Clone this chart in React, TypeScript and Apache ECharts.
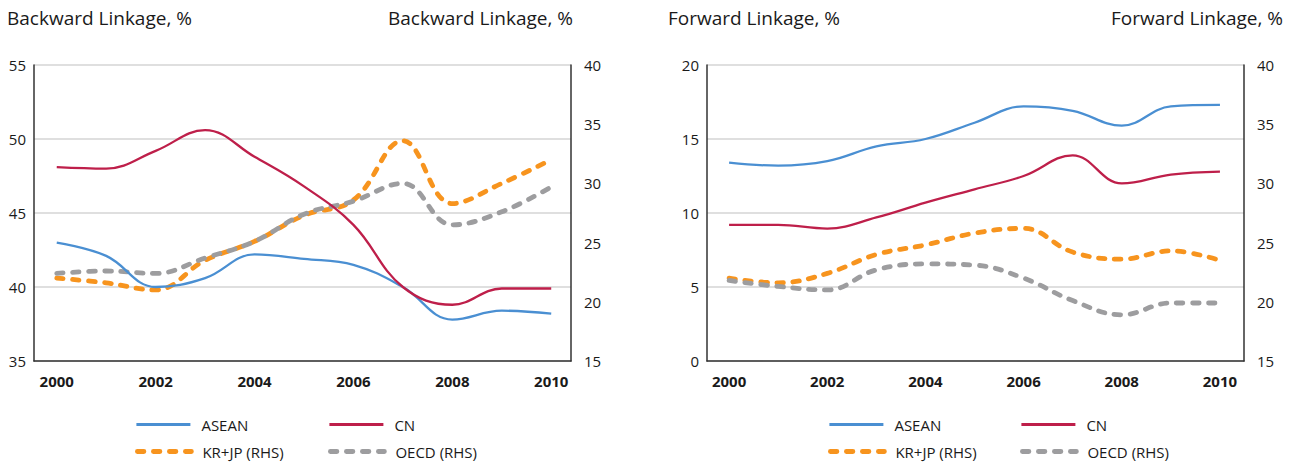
import React, { useEffect, useRef } from "react";
import * as echarts from "echarts";

const years = [2000, 2001, 2002, 2003, 2004, 2005, 2006, 2007, 2008, 2009, 2010];
const yearTicks = [2000, 2002, 2004, 2006, 2008, 2010];

// Backward linkage (left chart)
const bwASEAN = [43.0, 42.1, 40.0, 40.6, 42.2, 41.9, 41.5, 40.0, 37.8, 38.4, 38.2];
const bwCN = [48.1, 48.0, 49.2, 50.6, 48.8, 46.8, 44.2, 40.0, 38.8, 39.9, 39.9];
const bwKRJP = [22.0, 21.6, 21.0, 23.5, 25.1, 27.3, 28.6, 33.6, 28.3, 30.0, 32.0];
const bwOECD = [22.4, 22.6, 22.4, 23.7, 25.1, 27.4, 28.5, 30.0, 26.5, 27.6, 29.7];

// Forward linkage (right chart)
const fwASEAN = [13.4, 13.2, 13.5, 14.5, 15.0, 16.1, 17.2, 16.9, 15.9, 17.2, 17.3];
const fwCN = [9.2, 9.2, 8.95, 9.7, 10.7, 11.6, 12.5, 13.9, 12.0, 12.6, 12.8];
const fwKRJP = [22.0, 21.6, 22.4, 24.0, 24.8, 25.8, 26.2, 24.2, 23.6, 24.3, 23.5];
const fwOECD = [21.8, 21.3, 21.0, 22.7, 23.2, 23.1, 22.0, 20.1, 18.9, 19.9, 19.9];

const seriesNames = ["ASEAN", "CN", "KR+JP (RHS)", "OECD (RHS)"];
const titles = ["Backward Linkage, %", "Forward Linkage, %"];

const FONT = "'Open Sans', 'Noto Sans', sans-serif";
const TXT = "#1a1a1a";
const AXIS = "#333333";
const GRIDC = "#d4d4d4";

const COLORS: Record<string, string> = {
  ASEAN: "#4a8fd2",
  CN: "#be1f4a",
  "KR+JP (RHS)": "#f7941e",
  "OECD (RHS)": "#9d9d9f",
};

function pairs(vals: number[]) {
  return years.map((y, i) => [y, vals[i]]);
}

function lineSeries(name: string, vals: number[], xi: number, yi: number) {
  const dashed = name.indexOf("RHS") >= 0;
  return {
    type: "line",
    name,
    xAxisIndex: xi,
    yAxisIndex: yi,
    data: pairs(vals),
    smooth: 0.4,
    symbol: "none",
    showSymbol: false,
    z: dashed ? 3 : 4,
    lineStyle: dashed
      ? { color: COLORS[name], width: 4.8, type: [6.5, 9.5], cap: "round" }
      : { color: COLORS[name], width: 2.3 },
    itemStyle: { color: COLORS[name] },
  };
}

export default function App() {
  const ref = useRef<HTMLDivElement>(null);

  useEffect(() => {
    if (!ref.current) return;
    const chart = echarts.init(ref.current, null, { renderer: "svg" });

    const grids = [
      { left: 34, top: 65, width: 537, height: 296 },
      { left: 707, top: 65, width: 537, height: 296 },
    ];

    const xAxes = grids.map((_, gi) => ({
      type: "value",
      gridIndex: gi,
      min: gi === 0 ? 1999.54 : 1999.55,
      max: gi === 0 ? 2010.4 : 2010.49,
      splitLine: { show: false },
      axisTick: { show: false },
      axisLine: { show: true, lineStyle: { color: AXIS, width: 1.5 } },
      axisLabel: {
        customValues: yearTicks,
        formatter: (v: number) => String(v),
        fontFamily: FONT,
        fontSize: 15,
        fontWeight: "bold",
        color: TXT,
        margin: 12,
      },
    }));

    const leftRanges = [
      [35, 55],
      [0, 20],
    ];
    const yAxes: any[] = [];
    grids.forEach((_, gi) => {
      yAxes.push({
        type: "value",
        gridIndex: gi,
        position: "left",
        min: leftRanges[gi][0],
        max: leftRanges[gi][1],
        interval: 5,
        axisTick: { show: false },
        axisLine: { show: true, lineStyle: { color: AXIS, width: 1.5 } },
        splitLine: { show: true, lineStyle: { color: GRIDC, width: 1.5 } },
        axisLabel: { fontFamily: FONT, fontSize: 15, color: TXT, margin: 8 },
      });
      yAxes.push({
        type: "value",
        gridIndex: gi,
        position: "right",
        min: 15,
        max: 40,
        interval: 5,
        axisTick: { show: false },
        axisLine: { show: true, lineStyle: { color: AXIS, width: 1.5 } },
        splitLine: { show: false },
        axisLabel: { fontFamily: FONT, fontSize: 15, color: TXT, margin: 13 },
      });
    });

    const series = [
      lineSeries(seriesNames[2], bwKRJP, 0, 1),
      lineSeries(seriesNames[3], bwOECD, 0, 1),
      lineSeries(seriesNames[0], bwASEAN, 0, 0),
      lineSeries(seriesNames[1], bwCN, 0, 0),
      lineSeries(seriesNames[2], fwKRJP, 1, 3),
      lineSeries(seriesNames[3], fwOECD, 1, 3),
      lineSeries(seriesNames[0], fwASEAN, 1, 2),
      lineSeries(seriesNames[1], fwCN, 1, 2),
    ];

    const legendPos = [
      { x: 135, y: 425, i: 0 },
      { x: 328, y: 425, i: 1 },
      { x: 135, y: 452, i: 2 },
      { x: 328, y: 452, i: 3 },
      { x: 828, y: 425, i: 0 },
      { x: 1020, y: 425, i: 1 },
      { x: 828, y: 452, i: 2 },
      { x: 1020, y: 452, i: 3 },
    ];
    const legends = legendPos.map((p) => ({
      data: [seriesNames[p.i]],
      left: p.x,
      top: p.y - 8,
      padding: 0,
      itemWidth: 54,
      itemHeight: 16,
      selectedMode: false,
      itemStyle: { opacity: 0, borderWidth: 0 },
      lineStyle: p.i >= 2 ? { width: 4.8, cap: "round" } : { width: 2.8 },
      textStyle: {
        fontFamily: FONT,
        fontSize: 15,
        color: TXT,
        padding: [0, 0, 0, 6],
      },
    }));

    const titleItems = [
      { text: titles[0], x: 7, align: "left" },
      { text: titles[0], x: 573, align: "right" },
      { text: titles[1], x: 668, align: "left" },
      { text: titles[1], x: 1283, align: "right" },
    ];
    const graphics = titleItems.map((t) => ({
      type: "text",
      x: t.x,
      y: 18,
      style: {
        text: t.text,
        font: `19px ${FONT}`,
        fill: TXT,
        textAlign: t.align,
        textVerticalAlign: "middle",
        align: t.align,
        verticalAlign: "middle",
      },
    }));

    chart.setOption({
      animation: false,
      backgroundColor: "#ffffff",
      grid: grids,
      xAxis: xAxes,
      yAxis: yAxes,
      legend: legends,
      graphic: graphics,
      series,
    });

    return () => chart.dispose();
  }, []);

  return (
    <div
      ref={ref}
      style={{ position: "absolute", left: 0, top: 0, width: 1295, height: 463 }}
    />
  );
}
